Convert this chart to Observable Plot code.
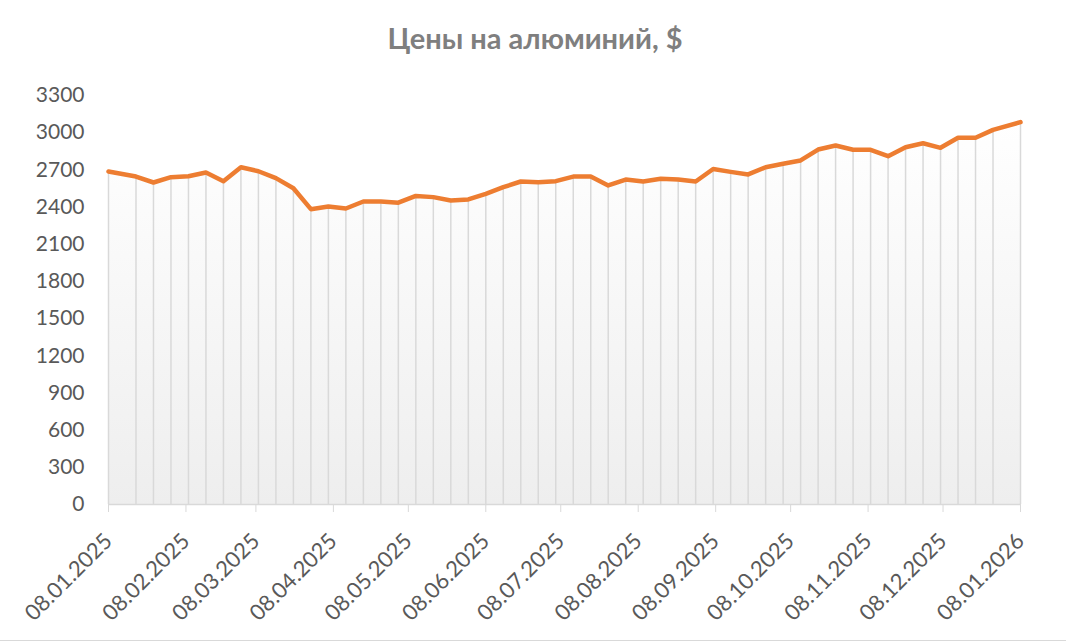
<!DOCTYPE html>
<html>
<head>
<meta charset="utf-8">
<script src="https://cdn.jsdelivr.net/npm/d3@7"></script>
<script src="https://cdn.jsdelivr.net/npm/@observablehq/plot@0.6"></script>
<style>
  html, body { margin: 0; padding: 0; background: #fff; }
  #wrap { width: 1066px; height: 641px; position: relative; overflow: hidden; border-bottom: 1px solid #d9d9d9; box-sizing: border-box; }
  #title { height: 70px; box-sizing: border-box; padding-top: 23px; padding-left: 4px; text-align: center; font: bold 29px Lato, sans-serif; line-height: 1; color: #7f7f7f; }
</style>
</head>
<body>
<div id="wrap">
  <div id="title">Цены на алюминий, $</div>
  <div id="chart"></div>
</div>
<script>
const dates = [
  "2025-01-08","2025-01-19","2025-01-26","2025-02-02","2025-02-09","2025-02-16","2025-02-23",
  "2025-03-02","2025-03-09","2025-03-16","2025-03-23","2025-03-30","2025-04-06","2025-04-13",
  "2025-04-20","2025-04-27","2025-05-04","2025-05-11","2025-05-18","2025-05-25","2025-06-01",
  "2025-06-08","2025-06-15","2025-06-22","2025-06-29","2025-07-06","2025-07-13","2025-07-20",
  "2025-07-27","2025-08-03","2025-08-10","2025-08-17","2025-08-24","2025-08-31","2025-09-07",
  "2025-09-14","2025-09-21","2025-09-28","2025-10-05","2025-10-12","2025-10-19","2025-10-26",
  "2025-11-02","2025-11-09","2025-11-16","2025-11-23","2025-11-30","2025-12-07","2025-12-14",
  "2025-12-21","2025-12-28","2026-01-08"
];
const prices = [
  2687, 2646, 2598, 2641, 2649, 2679, 2609,
  2721, 2689, 2633, 2552, 2383, 2404, 2388,
  2445, 2445, 2435, 2490, 2480, 2453, 2461,
  2507, 2560, 2606, 2601, 2609, 2646, 2646,
  2574, 2622, 2606, 2628, 2622, 2606, 2707,
  2684, 2663, 2721, 2749, 2776, 2864, 2897,
  2862, 2862, 2810, 2883, 2915, 2878, 2959,
  2959, 3023, 3085
];
const tickDates = [
  "2025-01-08","2025-02-08","2025-03-08","2025-04-08","2025-05-08","2025-06-08","2025-07-08",
  "2025-08-08","2025-09-08","2025-10-08","2025-11-08","2025-12-08","2026-01-08"
];
const yTicks = [0, 300, 600, 900, 1200, 1500, 1800, 2100, 2400, 2700, 3000, 3300];

const data = dates.map((d, i) => ({date: new Date(d + "T00:00:00Z"), price: prices[i]}));
const ticks = tickDates.map(d => new Date(d + "T00:00:00Z"));
const fmt = d3.utcFormat("%d.%m.%Y");

const gradient = () => {
  const defs = d3.create("svg:defs");
  const g = defs.append("linearGradient").attr("id", "areaGrad")
    .attr("x1", 0).attr("y1", 0).attr("x2", 0).attr("y2", 1);
  g.append("stop").attr("offset", "0%").attr("stop-color", "#ffffff");
  g.append("stop").attr("offset", "100%").attr("stop-color", "#eeeeee");
  return defs.node();
};

const chart = Plot.plot({
  width: 1066,
  height: 571,
  marginTop: 25,
  marginBottom: 137,
  marginLeft: 108,
  marginRight: 46,
  style: {fontFamily: "Lato, sans-serif", fontSize: "21px", color: "#595959", background: "transparent"},
  x: {type: "utc", domain: [ticks[0], ticks[ticks.length - 1]]},
  y: {domain: [0, 3300]},
  marks: [
    gradient,
    Plot.areaY(data, {x: "date", y: "price", fill: "url(#areaGrad)"}),
    Plot.ruleX(data, {x: "date", y1: 0, y2: "price", stroke: "#d9d9d9", strokeWidth: 1.5}),
    Plot.ruleY([0], {stroke: "#d9d9d9", strokeWidth: 1.5}),
    Plot.axisY({ticks: yTicks, tickSize: 0, tickPadding: 24, tickFormat: d => String(d), label: null}),
    Plot.axisX({ticks: ticks, tickFormat: () => "", tickSize: 8, stroke: "#d9d9d9", label: null}),
    Plot.text(ticks, {x: d => d, frameAnchor: "bottom", text: d => fmt(d), rotate: -45, textAnchor: "end", lineAnchor: "middle", dx: 0, dy: 33, fontSize: 22, fill: "#595959"}),
    Plot.line(data, {x: "date", y: "price", stroke: "#ED7D31", strokeWidth: 4.5, strokeLinejoin: "round", strokeLinecap: "round"})
  ]
});
document.getElementById("chart").appendChild(chart);
</script>
</body>
</html>
